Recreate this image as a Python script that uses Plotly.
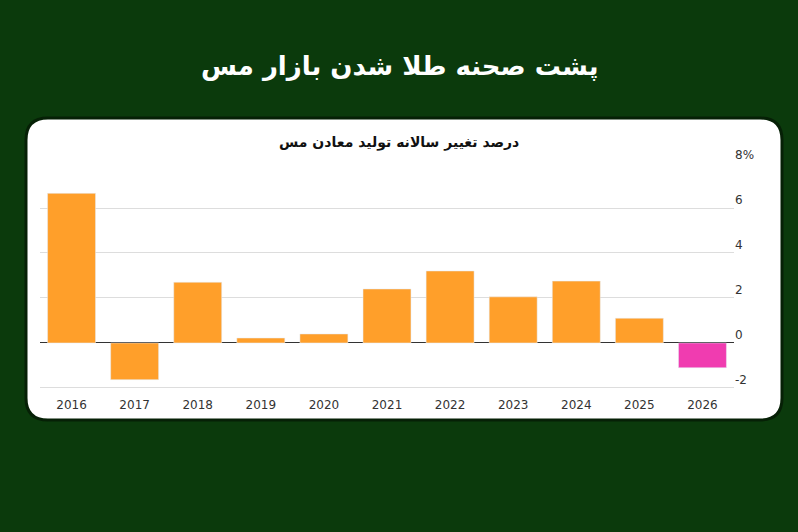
import plotly.graph_objects as go

years = ["2016","2017","2018","2019","2020","2021","2022","2023","2024","2025","2026"]
values = [6.65, -1.63, 2.7, 0.22, 0.4, 2.4, 3.2, 2.05, 2.75, 1.1, -1.1]
bar_colors = ["#ff9f2a"]*10 + ["#f03cb0"]
tick_vals = [-2, 0, 2, 4, 6, 8]
tick_text = ["-2", "0", "2", "4", "6", "8%"]
title = "پشت صحنه طلا شدن بازار مس"
subtitle = "درصد تغییر سالانه تولید معادن مس"

W, H = 798, 532
def px(x): return x / W
def py(y): return 1 - y / H

fig = go.Figure(go.Bar(x=years, y=values, marker_color=bar_colors, width=0.76))

x0, x1, y0, y1, r = 26, 782, 118, 420, 22
path = (f"M {px(x0+r)} {py(y0)} L {px(x1-r)} {py(y0)} Q {px(x1)} {py(y0)} {px(x1)} {py(y0+r)} "
        f"L {px(x1)} {py(y1-r)} Q {px(x1)} {py(y1)} {px(x1-r)} {py(y1)} "
        f"L {px(x0+r)} {py(y1)} Q {px(x0)} {py(y1)} {px(x0)} {py(y1-r)} "
        f"L {px(x0)} {py(y0+r)} Q {px(x0)} {py(y0)} {px(x0+r)} {py(y0)} Z")

fig.update_layout(
    width=W, height=H, margin=dict(l=0, r=0, t=0, b=0, autoexpand=False),
    paper_bgcolor="#0b3a0c", plot_bgcolor="rgba(0,0,0,0)",
    showlegend=False, bargap=0.24,
    font=dict(family="DejaVu Sans"),
    shapes=[dict(type="path", path=path, xref="paper", yref="paper",
                 fillcolor="white", line=dict(color="#062006", width=3), layer="below")],
    annotations=[
        dict(text=f"<b>{title}</b>", x=0.5, y=py(66), xref="paper", yref="paper",
             yanchor="middle", showarrow=False,
             font=dict(size=26, color="white", family="DejaVu Sans")),
        dict(text=f"<b>{subtitle}</b>", x=0.5, y=py(142), xref="paper", yref="paper",
             yanchor="middle", showarrow=False,
             font=dict(size=14, color="#111", family="DejaVu Sans")),
    ],
    xaxis=dict(domain=[px(40), px(734)], showgrid=False, ticks="", showline=False,
               ticklabelstandoff=6, tickfont=dict(size=12, color="#333")),
    yaxis=dict(domain=[py(390), py(163)], range=[-2.09, 8], side="right",
               tickvals=tick_vals, ticktext=tick_text, ticklabelposition="outside top",
               gridcolor="#dddddd", zeroline=True, zerolinecolor="#333", zerolinewidth=1,
               tickfont=dict(size=12, color="#333")),
)
fig.write_html("out.html", config={"displayModeBar": False})
with open("out.html", encoding="utf-8") as f:
    html = f.read()
html = html.replace("<body>", '<body style="margin:0;background:#0b3a0c">', 1)
with open("out.html", "w", encoding="utf-8") as f:
    f.write(html)
